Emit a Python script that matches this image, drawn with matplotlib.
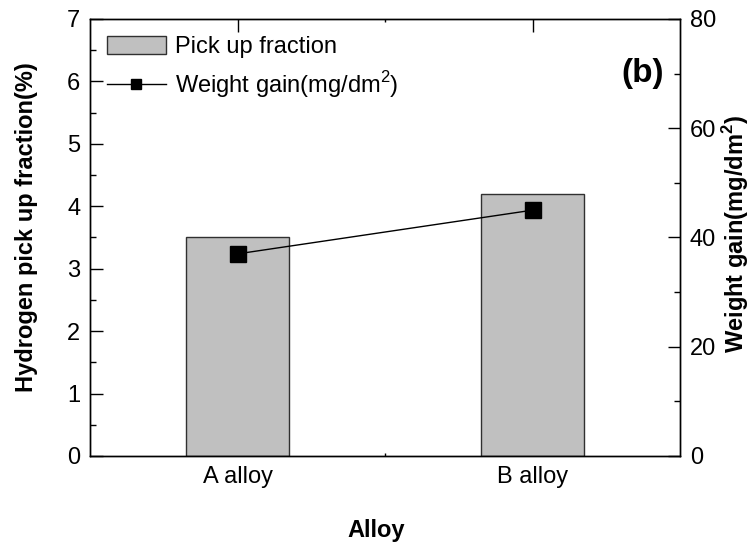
import matplotlib
matplotlib.use("Agg")
import matplotlib.pyplot as plt
from matplotlib.ticker import MultipleLocator, FixedLocator

plt.rcParams['font.family'] = ['Liberation Sans', 'DejaVu Sans']
plt.rcParams['mathtext.fontset'] = 'custom'
plt.rcParams['mathtext.rm'] = 'Liberation Sans'
plt.rcParams['mathtext.bf'] = 'Liberation Sans:bold'

# Data
alloys = ["A alloy", "B alloy"]
pickup_fraction = [3.5, 4.2]      # hydrogen pick up fraction (%)
weight_gain = [37.0, 45.0]        # weight gain (mg/dm^2)

positions = [1, 2]
FS = 17

fig = plt.figure(figsize=(7.52, 5.47), dpi=100)
ax1 = fig.add_axes([0.1197, 0.1664, 0.7846, 0.7989])
ax2 = ax1.twinx()

bars = ax1.bar(positions, pickup_fraction, width=0.35, color='#c0c0c0',
               edgecolor='#303030', linewidth=1.0, label='Pick up fraction',
               zorder=2)
line, = ax2.plot(positions, weight_gain, color='black', linewidth=1.0,
                 marker='s', markersize=12, markerfacecolor='black',
                 markeredgecolor='black', label=r'Weight gain(mg/dm$^{2}$)',
                 zorder=3)

ax1.set_xlim(0.5, 2.5)
ax1.set_ylim(0, 7)
ax2.set_ylim(0, 80)

ax1.set_xticks(positions)
ax1.set_xticklabels(alloys)
ax1.xaxis.set_minor_locator(FixedLocator([1.5]))
ax1.yaxis.set_major_locator(MultipleLocator(1))
ax1.yaxis.set_minor_locator(MultipleLocator(0.5))
ax2.yaxis.set_major_locator(MultipleLocator(20))
ax2.yaxis.set_minor_locator(MultipleLocator(10))

ax1.tick_params(axis='both', which='major', direction='in', length=9,
                width=1, labelsize=FS, top=True, pad=7)
ax1.tick_params(axis='both', which='minor', direction='in', length=4,
                width=1, top=True)
ax1.tick_params(axis='x', which='minor', length=2)
ax2.tick_params(axis='y', which='major', direction='in', length=9,
                width=1, labelsize=FS, pad=7)
ax2.tick_params(axis='y', which='minor', direction='in', length=4, width=1)

for ax in (ax1, ax2):
    for s in ax.spines.values():
        s.set_linewidth(1.0)

# Axis titles placed in figure coordinates
fig.text(376 / 752, 1 - 530 / 547, 'Alloy', fontsize=FS, fontweight='bold',
         ha='center', va='center')
fig.text(27 / 752, 1 - 227 / 547, 'Hydrogen pick up fraction(%)', fontsize=FS,
         fontweight='bold', rotation=90, ha='center', va='center')
fig.text(736 / 752, 1 - 234 / 547, r'Weight gain(mg/dm$^{\mathbf{2}}$)',
         fontsize=FS, fontweight='bold', rotation=90, ha='center',
         va='center')

ax2.text(0.973, 0.875, '(b)', transform=ax1.transAxes, fontsize=24,
         fontweight='bold', ha='right', va='center')

ax2.legend([bars, line], ['Pick up fraction', r'Weight gain(mg/dm$^{2}$)'],
           loc='upper left', frameon=False, fontsize=FS, handlelength=2.5,
           handleheight=0.85, handletextpad=0.4, labelspacing=0.45,
           markerscale=0.65, borderaxespad=0.3, bbox_to_anchor=(0.0, 1.0))

fig.savefig('out.png', dpi=100)
